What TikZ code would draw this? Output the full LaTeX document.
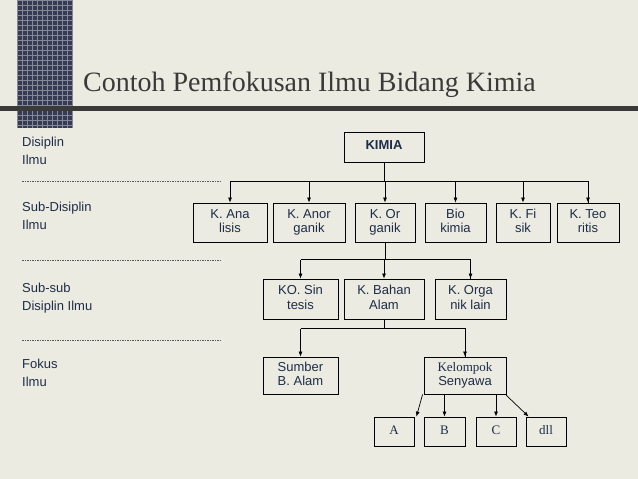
\documentclass[tikz,border=0pt]{standalone}
\usepackage{fontspec}
\setmainfont{Liberation Sans}
\newfontfamily\serif{Liberation Serif}
\usetikzlibrary{arrows.meta}
\definecolor{bg}{HTML}{ECEBE1}
\definecolor{navy}{HTML}{1E2C48}
\definecolor{blk}{HTML}{363A52}
\definecolor{bar}{HTML}{3A3A38}
\begin{document}
\begin{tikzpicture}[x=1pt,y=-1pt,
 bx/.style={draw,line width=0.8pt,inner sep=0pt,font=\fontsize{13}{15.5}\selectfont,text=navy},
 lab/.style={anchor=north west,align=left,font=\fontsize{13}{17.5}\selectfont,text=navy,inner sep=0pt},
 ar/.style={-{Latex[length=5pt,width=4pt]},line width=0.7pt},
 ln/.style={line width=0.7pt},
 dl/.style={dash pattern=on 1.5pt off 1pt,line width=0.5pt,draw=gray!70!black}]
\fill[bg] (0,0) rectangle (638,479);
\useasboundingbox (0,0) rectangle (638,479);
\fill[blk] (17,0) rectangle (72,128);
\foreach \i in {0,...,11}{\draw[white!40!blk,line width=0.3pt] (17+\i*5,0) -- (17+\i*5,128);}
\foreach \i in {0,...,25}{\draw[white!40!blk,line width=0.3pt] (17,\i*5) -- (72,\i*5);}
\fill[bar] (0,106) rectangle (638,111);
\node[anchor=base west,inner sep=0pt,text=bar,font=\serif\fontsize{28}{30}\selectfont] (title) at (83,91) {Contoh Pemfokusan Ilmu Bidang Kimia};
% left labels
\node[lab] (l1) at (22,137) {Disiplin\\Ilmu};
\node[lab] (l2) at (22,202) {Sub-Disiplin\\Ilmu};
\node[lab] (l3) at (22,283) {Sub-sub\\Disiplin Ilmu};
\node[lab] (l4) at (22,359) {Fokus\\Ilmu};
\coordinate (d1a) at (22,181); \coordinate (d1b) at (222,181);
\coordinate (d2a) at (22,260); \coordinate (d2b) at (222,260);
\coordinate (d3a) at (22,340); \coordinate (d3b) at (222,340);
\draw[dl] (d1a) -- (d1b); \draw[dl] (d2a) -- (d2b); \draw[dl] (d3a) -- (d3b);
% boxes
\newcommand\bxx[6]{\node[bx,minimum width=#4-#2,minimum height=#5-#3] (#1) at ({(#2+#4)/2},{(#3+#5)/2}) {\renewcommand\arraystretch{0.95}\begin{tabular}{@{}c@{}}#6\end{tabular}};}
\bxx{kimia}{344}{132}{424}{162}{\textbf{KIMIA}}
\bxx{ana}{193}{203}{267}{242}{K. Ana\\lisis}
\bxx{anor}{273}{203}{345}{242}{K. Anor\\ganik}
\bxx{or}{355}{203}{415}{242}{K. Or\\ganik}
\bxx{bio}{425}{203}{486}{242}{Bio\\kimia}
\bxx{fi}{496}{203}{550}{242}{K. Fi\\sik}
\bxx{teo}{557}{203}{619}{242}{K. Teo\\ritis}
\bxx{ko}{263}{279}{338}{319}{KO. Sin\\tesis}
\bxx{bahan}{344}{279}{424}{319}{K. Bahan\\Alam}
\bxx{orga}{435}{279}{506}{319}{K. Orga\\nik lain}
\bxx{sumber}{263}{357}{338}{394}{Sumber\\B. Alam}
\bxx{kel}{424}{357}{506}{394}{{\serif Kelompok}\\Senyawa}
\bxx{a}{374}{417}{414}{446}{\serif A}
\bxx{b}{424}{417}{465}{446}{\serif B}
\bxx{c}{476}{417}{516}{446}{\serif C}
\bxx{dll}{526}{417}{566}{446}{\serif dll}
% connectors
\draw[ln] (kimia.south) -- ++(0,20);
\draw[ln] (ana.north) ++(0,-21) -| (teo.north);
\foreach \n in {ana,anor,or,bio,fi,teo}{\draw[ar] (\n.north) ++(0,-21) -- (\n.north);}
\draw[ln] (or.south) -- ++(0,18);
\draw[ln] (ko.north) ++(0,-19) -| (orga.north);
\foreach \n in {ko,bahan,orga}{\draw[ar] (\n.north) ++(0,-19) -- (\n.north);}
\draw[ln] (bahan.south) -- ++(0,10);
\draw[ln] (sumber.north) ++(0,-28) -| (kel.north);
\foreach \n in {sumber,kel}{\draw[ar] (\n.north) ++(0,-28) -- (\n.north);}
\draw[ar] ([xshift=-1pt]kel.south west) -- ([xshift=2pt]a.north east);
\draw[ar] (kel.south -| b.north) -- (b.north);
\draw[ar] (kel.south -| c.north) -- (c.north);
\draw[ar] ([xshift=-1pt]kel.south east) -- ([xshift=3pt]dll.north west);
\end{tikzpicture}
\end{document}
